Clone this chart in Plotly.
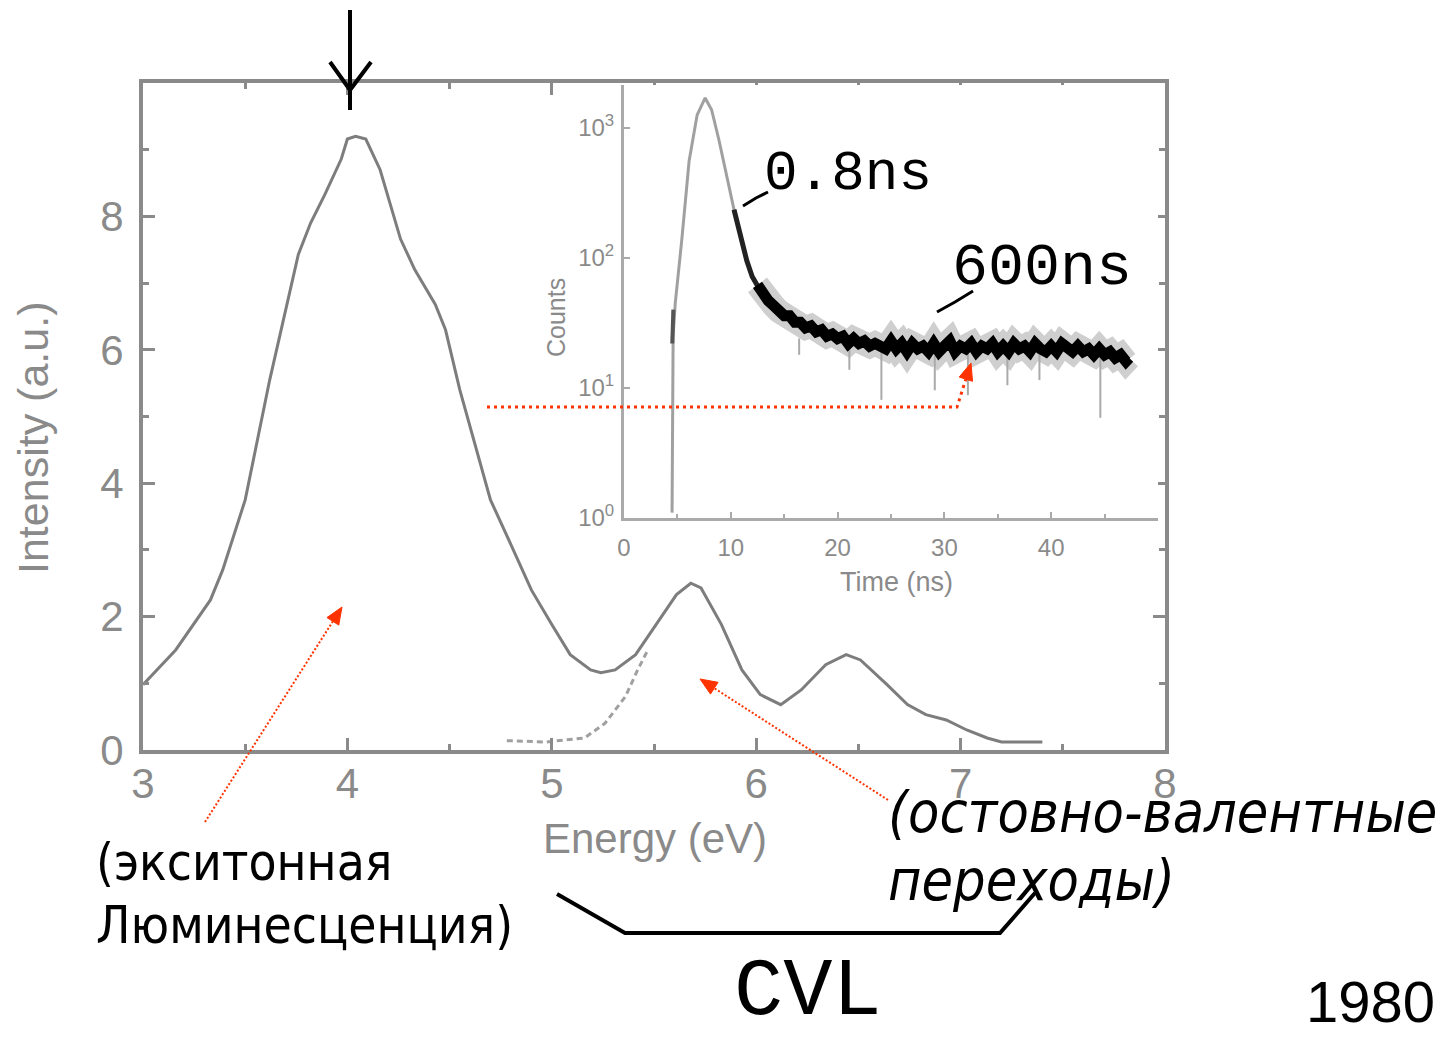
import plotly.graph_objects as go

W, H = 1441, 1038

# ---------------- data ----------------
# main emission spectrum (Energy, eV -> Intensity, a.u.)
energy = [3.00, 3.16, 3.33, 3.39, 3.50, 3.62, 3.76, 3.82, 3.89, 3.97,
          4.00, 4.04, 4.09, 4.16, 4.26, 4.33, 4.43, 4.48, 4.55, 4.63,
          4.70, 4.80, 4.90, 5.00, 5.09, 5.19, 5.24, 5.31, 5.41, 5.51,
          5.61, 5.68, 5.73, 5.83, 5.93, 6.02, 6.12, 6.22, 6.34, 6.44,
          6.51, 6.64, 6.74, 6.83, 6.93, 7.03, 7.13, 7.20, 7.40]
intensity = [0.98, 1.50, 2.25, 2.70, 3.75, 5.55, 7.43, 7.90, 8.33, 8.86,
             9.16, 9.20, 9.16, 8.70, 7.66, 7.20, 6.68, 6.30, 5.40, 4.50,
             3.75, 3.08, 2.40, 1.88, 1.43, 1.20, 1.16, 1.20, 1.43, 1.88,
             2.33, 2.50, 2.43, 1.88, 1.20, 0.83, 0.68, 0.90, 1.28, 1.43,
             1.35, 0.98, 0.68, 0.53, 0.45, 0.30, 0.18, 0.12, 0.12]

# dashed CVL component
cvl_energy = [4.78, 4.97, 5.16, 5.26, 5.36, 5.42, 5.47]
cvl_intensity = [0.14, 0.12, 0.18, 0.40, 0.80, 1.20, 1.50]

# inset: decay curve (Time, ns -> Counts)
rise_t = [4.50, 4.52, 4.60, 4.80, 5.40, 6.10, 6.85, 7.60, 8.20, 8.90, 9.60, 10.30, 11.00]
rise_c = [1.1, 8, 25, 45, 135, 560, 1260, 1700, 1380, 800, 440, 235, 138]

dark_t = [4.52, 4.62]
dark_c = [22, 40]

early_t = [10.3, 11.0, 11.5, 12.0, 12.5, 13.0]
early_c = [235, 138, 95, 72, 62, 52]

tail_t = [12.5, 13.0, 13.5, 14.0, 14.5, 15.0,
          15.5, 16.0, 16.5, 17.0, 17.5, 18.0, 18.5, 19.0, 19.5, 20.0,
          20.5, 21.0, 21.5, 22.0, 22.5, 23.0, 23.5, 24.0, 24.5, 25.0,
          25.5, 26.0, 26.5, 27.0, 27.5, 28.0, 28.5, 29.0, 29.5, 30.0,
          30.5, 31.0, 31.5, 32.0, 32.5, 33.0, 33.5, 34.0, 34.5, 35.0,
          35.5, 36.0, 36.5, 37.0, 37.5, 38.0, 38.5, 39.0, 39.5, 40.0,
          40.5, 41.0, 41.5, 42.0, 42.5, 43.0, 43.5, 44.0, 44.5, 45.0,
          45.5, 46.0, 46.5, 47.0, 47.3]
tail_c = [62, 52, 47, 43, 39, 36,
          36, 32, 32, 29, 30, 27, 28, 25, 26, 24,
          25, 22, 24, 22, 23, 21, 22, 21, 20, 23,
          20, 22, 19, 22, 20, 21, 19, 22, 19, 21,
          23, 19, 21, 20, 22, 19, 21, 20, 22, 19,
          21, 19, 22, 20, 21, 19, 22, 20, 19, 21,
          19, 22, 20, 19, 21, 19, 20, 18, 20, 18,
          19, 17, 18, 16, 17]

spike_t = [16.4, 16.4, None, 21.1, 21.1, None, 24.1, 24.1, None, 29.1, 29.1, None,
           32.2, 32.2, None, 35.9, 35.9, None, 38.9, 38.9, None, 44.6, 44.6]
spike_c = [24, 18, None, 22, 13.8, None, 21, 8.1, None, 21, 9.6, None,
           21, 8.8, None, 20, 10.5, None, 20, 11.5, None, 19, 5.9]

x_ticks = [3, 4, 5, 6, 7, 8]
y_ticks = [0, 2, 4, 6, 8]
inset_x_ticks = [0, 10, 20, 30, 40]
inset_y_ticks = [1, 10, 100, 1000]
inset_y_text = ["10<sup>0</sup>", "10<sup>1</sup>", "10<sup>2</sup>", "10<sup>3</sup>"]

# ---------------- helpers (pixel -> paper) ----------------
def px(x):
    return x / W

def py(y):
    return 1 - y / H

def path(points, close=False):
    s = "M " + " L ".join(f"{px(x):.5f},{py(y):.5f}" for x, y in points)
    return s + (" Z" if close else "")

def head(tip, tail, length=17, half=7):
    dx, dy = tip[0] - tail[0], tip[1] - tail[1]
    n = (dx * dx + dy * dy) ** 0.5
    ux, uy = dx / n, dy / n
    bx, by = tip[0] - length * ux, tip[1] - length * uy
    return [tip, (bx - half * uy, by + half * ux), (bx + half * uy, by - half * ux)]

GREY = "#8a8a8a"
RED = "#ff3300"

fig = go.Figure()

# main spectrum
fig.add_trace(go.Scatter(x=energy, y=intensity, mode="lines",
                         line=dict(color="#7d7d7d", width=3),
                         xaxis="x", yaxis="y", showlegend=False))
fig.add_trace(go.Scatter(x=cvl_energy, y=cvl_intensity, mode="lines",
                         line=dict(color="#a0a0a0", width=3, dash="6px,4px"),
                         xaxis="x", yaxis="y", showlegend=False))

# inset
fig.add_trace(go.Scatter(x=tail_t, y=tail_c, mode="lines",
                         line=dict(color="#cfcfcf", width=24),
                         xaxis="x2", yaxis="y2", showlegend=False))
fig.add_trace(go.Scatter(x=spike_t, y=spike_c, mode="lines",
                         line=dict(color="#aaaaaa", width=2),
                         xaxis="x2", yaxis="y2", showlegend=False))
fig.add_trace(go.Scatter(x=rise_t, y=rise_c, mode="lines",
                         line=dict(color="#a0a0a0", width=3),
                         xaxis="x2", yaxis="y2", showlegend=False))
fig.add_trace(go.Scatter(x=dark_t, y=dark_c, mode="lines",
                         line=dict(color="#555555", width=4),
                         xaxis="x2", yaxis="y2", showlegend=False))
fig.add_trace(go.Scatter(x=early_t, y=early_c, mode="lines",
                         line=dict(color="#222222", width=5),
                         xaxis="x2", yaxis="y2", showlegend=False))
fig.add_trace(go.Scatter(x=tail_t, y=tail_c, mode="lines",
                         line=dict(color="#000000", width=11),
                         xaxis="x2", yaxis="y2", showlegend=False))

tickfont_main = dict(family="Liberation Sans, Arial", size=42, color=GREY)
tickfont_in = dict(family="Liberation Sans, Arial", size=24, color=GREY)

fig.update_layout(
    width=W, height=H,
    margin=dict(l=0, r=0, t=0, b=0, autoexpand=False),
    paper_bgcolor="white", plot_bgcolor="white",
    showlegend=False,
    xaxis=dict(domain=[px(143), px(1165)], range=[3, 8], anchor="y",
               tickvals=x_ticks, ticks="inside", ticklen=12, tickwidth=3, tickcolor=GREY,
               minor=dict(dtick=0.5, tick0=3, ticks="inside", ticklen=6, tickwidth=3, tickcolor=GREY),
               showline=True, linecolor=GREY, linewidth=4, mirror="ticks",
               showgrid=False, zeroline=False, tickfont=tickfont_main, ticklabelstandoff=-6),
    yaxis=dict(domain=[py(750), py(83)], range=[0, 10], anchor="x",
               tickvals=y_ticks, ticks="inside", ticklen=12, tickwidth=3, tickcolor=GREY,
               minor=dict(dtick=1, tick0=0, ticks="inside", ticklen=6, tickwidth=3, tickcolor=GREY),
               showline=True, linecolor=GREY, linewidth=4, mirror="ticks",
               showgrid=False, zeroline=False, tickfont=tickfont_main, ticklabelstandoff=7),
    xaxis2=dict(domain=[px(624), px(1158)], range=[0, 50], anchor="y2",
                tickvals=inset_x_ticks, ticks="inside", ticklen=6, tickwidth=2, tickcolor="#aaaaaa",
                minor=dict(dtick=5, tick0=0, ticks="inside", ticklen=4, tickwidth=2, tickcolor="#aaaaaa"),
                showline=True, linecolor="#aaaaaa", linewidth=3, mirror=False,
                showgrid=False, zeroline=False, tickfont=tickfont_in, ticklabelstandoff=6),
    yaxis2=dict(domain=[py(518), py(85)], type="log", range=[0, 3.33], anchor="x2",
                tickvals=inset_y_ticks, ticktext=inset_y_text,
                ticks="inside", ticklen=6, tickwidth=2, tickcolor="#aaaaaa",
                showline=True, linecolor="#aaaaaa", linewidth=3, mirror=False,
                showgrid=False, zeroline=False, tickfont=tickfont_in, ticklabelstandoff=2),
)

shapes = []

def add_path(points, color, width, close=False, fill=None, dash=None):
    ln = dict(color=color, width=width)
    if dash:
        ln["dash"] = dash
    d = dict(type="path", xref="paper", yref="paper", path=path(points, close), line=ln)
    if fill:
        d["fillcolor"] = fill
    shapes.append(d)

# black arrow on top
add_path([(350, 10), (350, 110)], "black", 4)
add_path([(330, 62), (350, 90), (371, 62)], "black", 4)
# pointers to the lifetime labels
add_path([(743, 206), (756, 198), (768, 192)], "black", 3)
add_path([(937, 312), (955, 302), (973, 291)], "black", 3)
# CVL bracket
add_path([(557, 894), (625, 933), (1000, 933), (1035, 893)], "black", 4)

# red dotted arrows
def mid(a, b):
    return ((a[0] + b[0]) / 2, (a[1] + b[1]) / 2)

a1_tail, a1_tip = (205, 822), (342, 607)
h1 = head(a1_tip, a1_tail)
add_path([a1_tail, mid(h1[1], h1[2])], RED, 2, dash="2px,2px")
add_path(h1, RED, 1, close=True, fill=RED)

a2_tail, a2_tip = (888, 800), (700, 679)
h2 = head(a2_tip, a2_tail)
add_path([a2_tail, mid(h2[1], h2[2])], RED, 2, dash="2px,2px")
add_path(h2, RED, 1, close=True, fill=RED)

a3_corner, a3_tip = (957, 407), (971, 363)
h3 = head(a3_tip, a3_corner)
add_path([(487, 407), a3_corner, mid(h3[1], h3[2])], RED, 3, dash="3px,4px")
add_path(h3, RED, 1, close=True, fill=RED)

fig.update_layout(shapes=shapes)

def note(text, x, y, size, family, color="black", xanchor="center", angle=0):
    fig.add_annotation(text=text, x=px(x), y=py(y), xref="paper", yref="paper",
                       showarrow=False, xanchor=xanchor, yanchor="middle", textangle=angle,
                       font=dict(family=family, size=size, color=color))

SANS = "Liberation Sans, Arial"
# axis titles
note("Intensity (a.u.)", 33, 438, 43, SANS, GREY, angle=-90)
note("Energy (eV)", 655, 838, 42, SANS, GREY)
note("Counts", 556, 318, 25, SANS, GREY, angle=-90)
note("Time (ns)", 896, 582, 27, SANS, GREY)

# labels
TAHOMA = "DejaVu Sans Condensed, DejaVu Sans"
note("(экситонная", 94, 862, 51, TAHOMA, xanchor="left")
note("Люминесценция)", 94, 925, 51, TAHOMA, xanchor="left")
note("<i>(остовно-валентные</i>", 886, 812, 57, TAHOMA, xanchor="left")
note("<i>переходы)</i>", 886, 880, 57, TAHOMA, xanchor="left")
MONO = "Liberation Mono, Courier New, monospace"
note("0.8ns", 762, 174, 56, MONO, xanchor="left")
note("600ns", 950, 268, 60, MONO, xanchor="left")
note("CVL", 808, 992, 82, MONO)
note("1980", 1437, 1001, 58, SANS, xanchor="right")

fig.write_html("out.html")
